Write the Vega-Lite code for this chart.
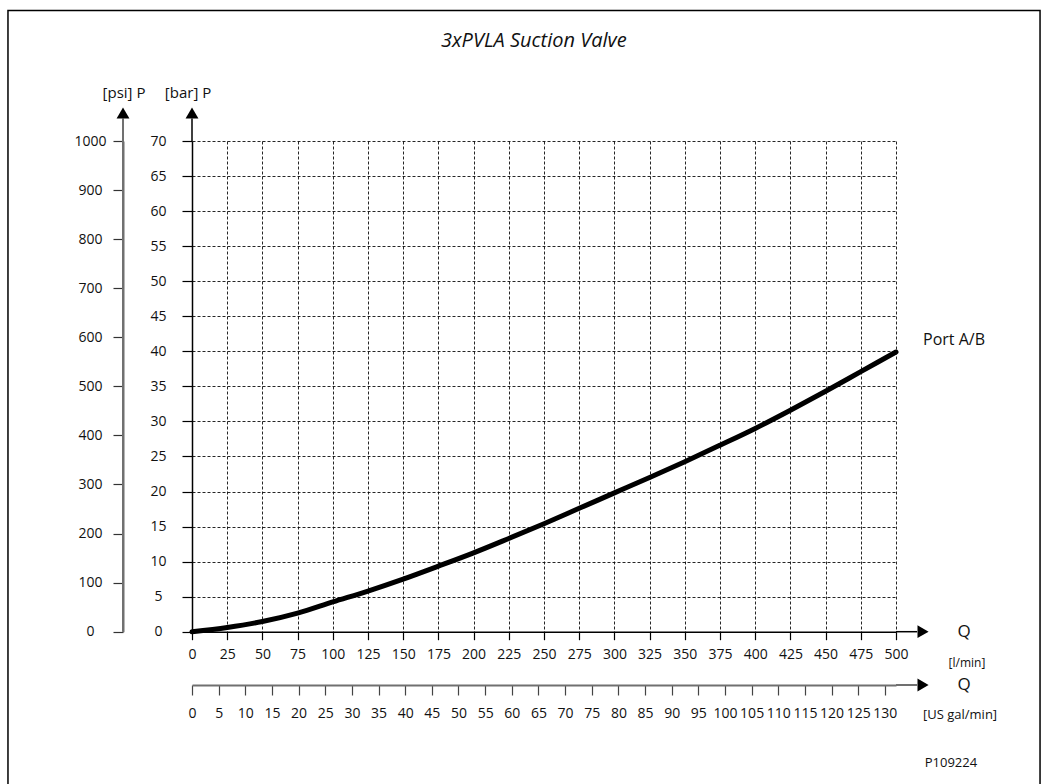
{
  "$schema": "https://vega.github.io/schema/vega-lite/v6.json",
  "width": 704,
  "height": 490.7,
  "autosize": "none",
  "padding": {"left": 192, "top": 141, "right": 153, "bottom": 152.3},
  "background": "white",
  "config": {
    "view": {"stroke": null},
    "font": "Open Sans",
    "text": {"font": "Open Sans", "color": "#111"},
    "axis": {"labelFont": "Open Sans", "labelColor": "#111", "labelFontSize": 14, "title": null}
  },
  "resolve": {"scale": {"x": "independent", "y": "independent"}},
  "layer": [
    {
      "data": {"values": [
        {"Q": 0, "P": 0}, {"Q": 25, "P": 0.6}, {"Q": 50, "P": 1.45}, {"Q": 75, "P": 2.65},
        {"Q": 100, "P": 4.25}, {"Q": 125, "P": 5.8}, {"Q": 150, "P": 7.5}, {"Q": 175, "P": 9.35},
        {"Q": 200, "P": 11.25}, {"Q": 225, "P": 13.3}, {"Q": 250, "P": 15.4}, {"Q": 275, "P": 17.6},
        {"Q": 300, "P": 19.8}, {"Q": 325, "P": 22.0}, {"Q": 350, "P": 24.25}, {"Q": 375, "P": 26.6},
        {"Q": 400, "P": 29.0}, {"Q": 425, "P": 31.6}, {"Q": 450, "P": 34.3}, {"Q": 475, "P": 37.1},
        {"Q": 500, "P": 39.9}
      ]},
      "mark": {"type": "line", "color": "#000", "strokeWidth": 5, "interpolate": "monotone", "strokeCap": "round"},
      "encoding": {
        "x": {"field": "Q", "type": "quantitative", "scale": {"domain": [0, 500], "nice": false, "zero": false},
          "axis": {"orient": "bottom", "values": [0,25,50,75,100,125,150,175,200,225,250,275,300,325,350,375,400,425,450,475,500],
            "grid": true, "gridColor": "#000", "gridDash": [3, 2], "gridWidth": 1, "gridOpacity": 0.85,
            "domainColor": "#000", "domainWidth": 1.5, "tickColor": "#000", "tickSize": 8, "tickWidth": 1.2,
            "labelPadding": 8, "labelFlush": false, "labelOverlap": false, "format": "d"}},
        "y": {"field": "P", "type": "quantitative", "scale": {"domain": [0, 70], "nice": false, "zero": false},
          "axis": {"orient": "left", "values": [0,5,10,15,20,25,30,35,40,45,50,55,60,65,70],
            "grid": true, "gridColor": "#000", "gridDash": [3, 2], "gridWidth": 1, "gridOpacity": 0.85,
            "domainColor": "#000", "domainWidth": 1.5, "tickColor": "#000", "tickSize": 10, "tickWidth": 1.2,
            "labelAlign": "center", "labelBaseline": "middle", "labelPadding": 24, "labelOverlap": false, "format": "d"}}
      }
    },
    {
      "data": {"values": [{}]},
      "layer": [
        {"mark": {"type": "rect", "fillOpacity": 0, "stroke": "#000", "strokeWidth": 1.5},
         "encoding": {"x": {"datum": -130.7, "type": "quantitative", "scale": {"domain": [0, 500], "nice": false, "zero": false}, "axis": null}, "x2": {"datum": 602.3},
                      "y": {"datum": -23.5, "type": "quantitative", "scale": {"domain": [0, 70], "nice": false, "zero": false}, "axis": null}, "y2": {"datum": 88.6}}},
        {"mark": {"type": "rule", "color": "#000", "strokeWidth": 1.5},
         "encoding": {"x": {"datum": 0, "type": "quantitative", "scale": {"domain": [0, 500], "nice": false, "zero": false}, "axis": null},
                      "y": {"datum": 70, "type": "quantitative", "scale": {"domain": [0, 70], "nice": false, "zero": false}, "axis": null}, "y2": {"datum": 73.2}}},
        {"mark": {"type": "rule", "color": "#707070", "strokeWidth": 2},
         "encoding": {"x": {"datum": -49, "type": "quantitative", "scale": {"domain": [0, 500], "nice": false, "zero": false}, "axis": null},
                      "y": {"datum": 0, "type": "quantitative", "scale": {"domain": [0, 70], "nice": false, "zero": false}, "axis": null}, "y2": {"datum": 73.2}}},
        {"mark": {"type": "rule", "color": "#000", "strokeWidth": 1.5},
         "encoding": {"x": {"datum": 500, "type": "quantitative", "scale": {"domain": [0, 500], "nice": false, "zero": false}, "axis": null}, "x2": {"datum": 515},
                      "y": {"datum": 0, "type": "quantitative", "scale": {"domain": [0, 70], "nice": false, "zero": false}, "axis": null}}},
        {"mark": {"type": "rule", "color": "#707070", "strokeWidth": 2},
         "encoding": {"x": {"datum": 500, "type": "quantitative", "scale": {"domain": [0, 500], "nice": false, "zero": false}, "axis": null}, "x2": {"datum": 515},
                      "y": {"datum": -7.6, "type": "quantitative", "scale": {"domain": [0, 70], "nice": false, "zero": false}, "axis": null}}},
        {"mark": {"type": "point", "shape": "triangle-up", "filled": true, "color": "#000", "size": 165, "opacity": 1},
         "encoding": {"x": {"datum": 0, "type": "quantitative", "scale": {"domain": [0, 500], "nice": false, "zero": false}, "axis": null},
                      "y": {"datum": 74.0, "type": "quantitative", "scale": {"domain": [0, 70], "nice": false, "zero": false}, "axis": null}}},
        {"mark": {"type": "point", "shape": "triangle-up", "filled": true, "color": "#000", "size": 165, "opacity": 1},
         "encoding": {"x": {"datum": -49, "type": "quantitative", "scale": {"domain": [0, 500], "nice": false, "zero": false}, "axis": null},
                      "y": {"datum": 74.0, "type": "quantitative", "scale": {"domain": [0, 70], "nice": false, "zero": false}, "axis": null}}},
        {"mark": {"type": "point", "shape": "triangle-right", "filled": true, "color": "#000", "size": 165, "opacity": 1},
         "encoding": {"x": {"datum": 519.2, "type": "quantitative", "scale": {"domain": [0, 500], "nice": false, "zero": false}, "axis": null},
                      "y": {"datum": 0, "type": "quantitative", "scale": {"domain": [0, 70], "nice": false, "zero": false}, "axis": null}}},
        {"mark": {"type": "point", "shape": "triangle-right", "filled": true, "color": "#000", "size": 165, "opacity": 1},
         "encoding": {"x": {"datum": 519.2, "type": "quantitative", "scale": {"domain": [0, 500], "nice": false, "zero": false}, "axis": null},
                      "y": {"datum": -7.6, "type": "quantitative", "scale": {"domain": [0, 70], "nice": false, "zero": false}, "axis": null}}},
        {"mark": {"type": "text", "fontSize": 20, "fontStyle": "italic", "align": "center", "baseline": "alphabetic"},
         "encoding": {"x": {"datum": 242.8, "type": "quantitative", "scale": {"domain": [0, 500], "nice": false, "zero": false}, "axis": null},
                      "y": {"datum": 83.4, "type": "quantitative", "scale": {"domain": [0, 70], "nice": false, "zero": false}, "axis": null}, "text": {"value": "3xPVLA Suction Valve"}}},
        {"mark": {"type": "text", "fontSize": 15, "align": "center", "baseline": "middle"},
         "encoding": {"x": {"datum": -48.3, "type": "quantitative", "scale": {"domain": [0, 500], "nice": false, "zero": false}, "axis": null},
                      "y": {"datum": 76.8, "type": "quantitative", "scale": {"domain": [0, 70], "nice": false, "zero": false}, "axis": null}, "text": {"value": "[psi] P"}}},
        {"mark": {"type": "text", "fontSize": 15, "align": "center", "baseline": "middle"},
         "encoding": {"x": {"datum": -2.8, "type": "quantitative", "scale": {"domain": [0, 500], "nice": false, "zero": false}, "axis": null},
                      "y": {"datum": 76.8, "type": "quantitative", "scale": {"domain": [0, 70], "nice": false, "zero": false}, "axis": null}, "text": {"value": "[bar] P"}}},
        {"mark": {"type": "text", "fontSize": 16, "align": "left", "baseline": "middle"},
         "encoding": {"x": {"datum": 519.2, "type": "quantitative", "scale": {"domain": [0, 500], "nice": false, "zero": false}, "axis": null},
                      "y": {"datum": 41.6, "type": "quantitative", "scale": {"domain": [0, 70], "nice": false, "zero": false}, "axis": null}, "text": {"value": "Port A/B"}}},
        {"mark": {"type": "text", "fontSize": 17, "align": "center", "baseline": "middle"},
         "encoding": {"x": {"datum": 548.3, "type": "quantitative", "scale": {"domain": [0, 500], "nice": false, "zero": false}, "axis": null},
                      "y": {"datum": 0, "type": "quantitative", "scale": {"domain": [0, 70], "nice": false, "zero": false}, "axis": null}, "text": {"value": "Q"}}},
        {"mark": {"type": "text", "fontSize": 12, "align": "center", "baseline": "middle"},
         "encoding": {"x": {"datum": 550.4, "type": "quantitative", "scale": {"domain": [0, 500], "nice": false, "zero": false}, "axis": null},
                      "y": {"datum": -4.5, "type": "quantitative", "scale": {"domain": [0, 70], "nice": false, "zero": false}, "axis": null}, "text": {"value": "[l/min]"}}},
        {"mark": {"type": "text", "fontSize": 17, "align": "center", "baseline": "middle"},
         "encoding": {"x": {"datum": 548.3, "type": "quantitative", "scale": {"domain": [0, 500], "nice": false, "zero": false}, "axis": null},
                      "y": {"datum": -7.6, "type": "quantitative", "scale": {"domain": [0, 70], "nice": false, "zero": false}, "axis": null}, "text": {"value": "Q"}}},
        {"mark": {"type": "text", "fontSize": 13, "align": "center", "baseline": "middle"},
         "encoding": {"x": {"datum": 545.5, "type": "quantitative", "scale": {"domain": [0, 500], "nice": false, "zero": false}, "axis": null},
                      "y": {"datum": -11.9, "type": "quantitative", "scale": {"domain": [0, 70], "nice": false, "zero": false}, "axis": null}, "text": {"value": "[US gal/min]"}}},
        {"mark": {"type": "text", "fontSize": 13, "align": "center", "baseline": "middle"},
         "encoding": {"x": {"datum": 539, "type": "quantitative", "scale": {"domain": [0, 500], "nice": false, "zero": false}, "axis": null},
                      "y": {"datum": -18.8, "type": "quantitative", "scale": {"domain": [0, 70], "nice": false, "zero": false}, "axis": null}, "text": {"value": "P109224"}}}
      ]
    },
    {
      "data": {"values": [{}]},
      "mark": {"type": "point", "opacity": 0},
      "encoding": {
        "x": {"datum": 0, "type": "quantitative", "scale": {"domain": [0, 132.09], "nice": false, "zero": false},
          "axis": {"orient": "bottom", "offset": 53.3, "values": [0,5,10,15,20,25,30,35,40,45,50,55,60,65,70,75,80,85,90,95,100,105,110,115,120,125,130],
            "grid": false, "domainColor": "#707070", "domainWidth": 2, "tickColor": "#444", "tickSize": 10, "tickWidth": 1.2,
            "labelPadding": 11, "labelFlush": false, "labelOverlap": false, "format": "d"}},
        "y": {"datum": 0, "type": "quantitative", "scale": {"domain": [0, 70], "nice": false}, "axis": null}
      }
    },
    {
      "data": {"values": [{}]},
      "mark": {"type": "point", "opacity": 0},
      "encoding": {
        "x": {"datum": 0, "type": "quantitative", "scale": {"domain": [0, 500], "nice": false}, "axis": null},
        "y": {"datum": 0, "type": "quantitative", "scale": {"domain": [0, 1000], "nice": false, "zero": false},
          "axis": {"orient": "left", "offset": 69, "values": [0,100,200,300,400,500,600,700,800,900,1000],
            "grid": false, "domainColor": "#707070", "domainWidth": 2, "tickColor": "#333", "tickSize": 10, "tickWidth": 1.2,
            "labelAlign": "center", "labelBaseline": "middle", "labelPadding": 23, "labelOverlap": false, "format": "d"}}
      }
    }
  ]
}
